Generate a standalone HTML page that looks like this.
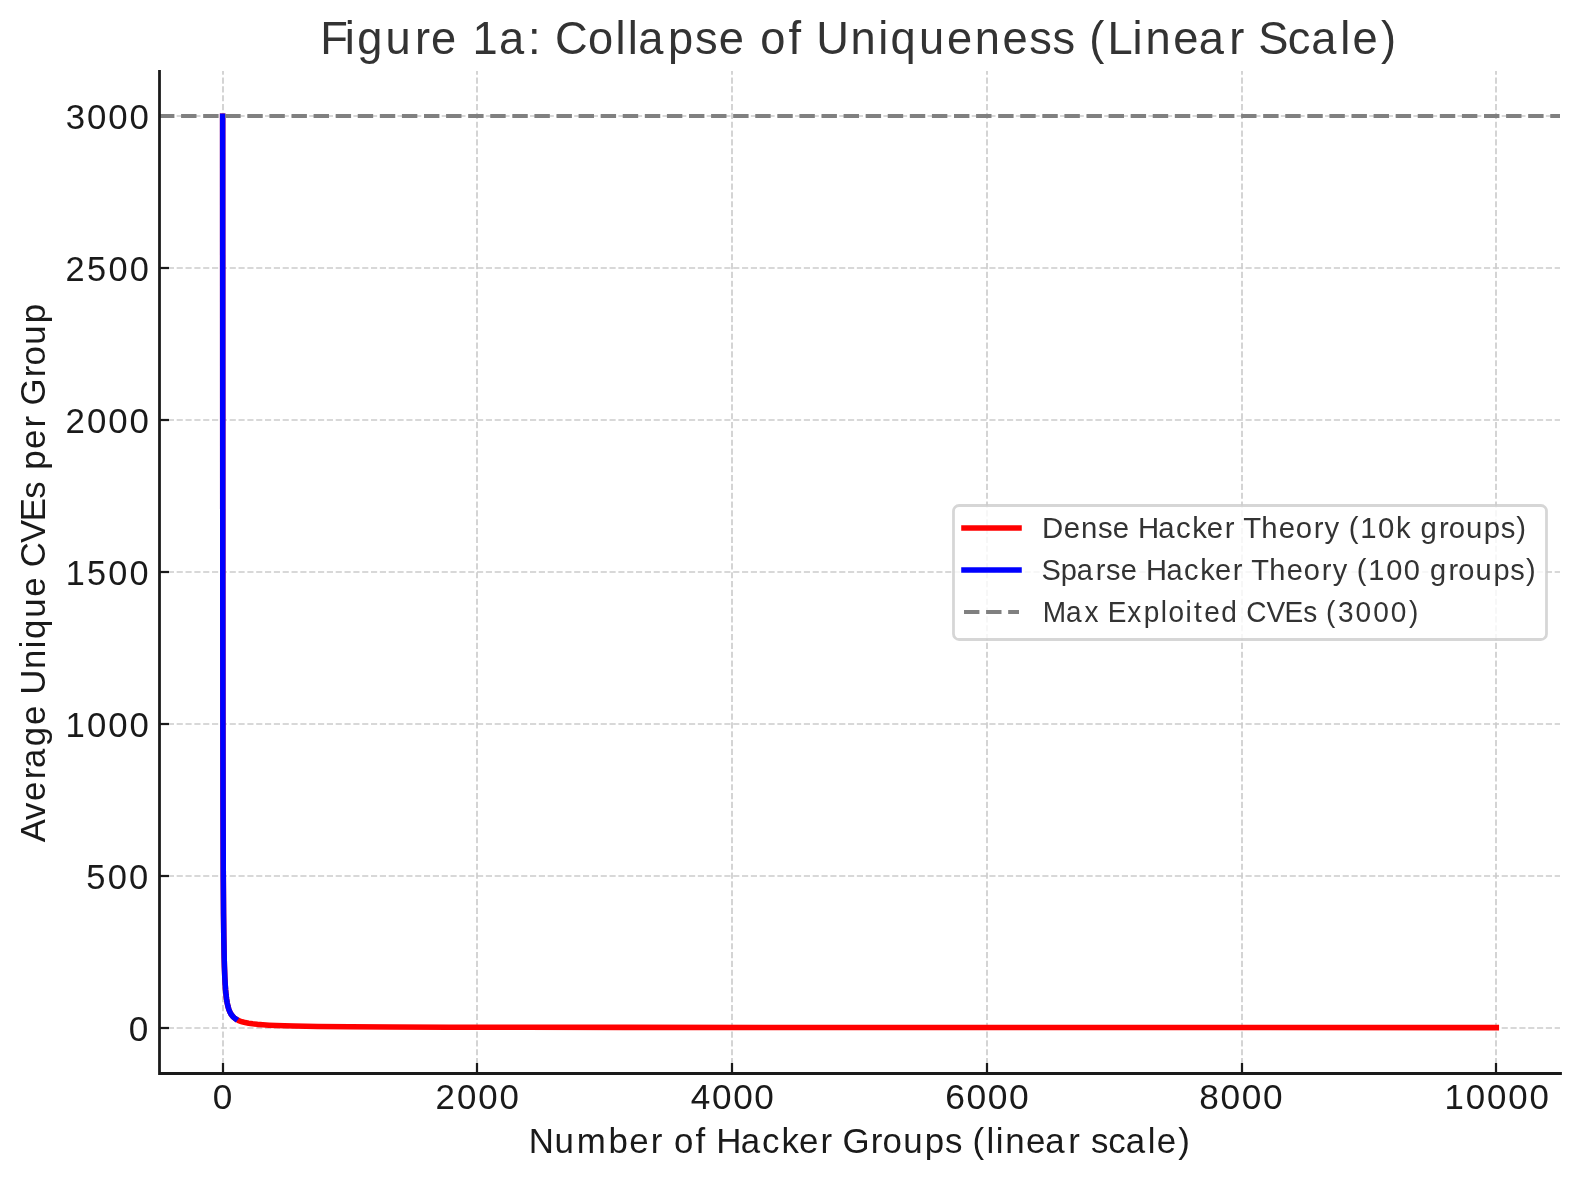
<!DOCTYPE html>
<html><head><meta charset="utf-8"><title>Figure 1a: Collapse of Uniqueness (Linear Scale)</title>
<style>html,body{margin:0;padding:0;background:#fff;}svg{display:block;will-change:transform;}text{font-family:"Liberation Sans",sans-serif;}</style></head><body>
<svg width="1580" height="1180" viewBox="0 0 1580 1180">
<rect x="0" y="0" width="1580" height="1180" fill="#ffffff"/>
<defs><clipPath id="ax"><rect x="158.96" y="70.67" width="1401.04" height="1002.5000000000001"/></clipPath></defs>
<g fill="none" stroke="#cccccc" stroke-width="1.6667" stroke-dasharray="6.1667 2.6667"><path d="M223 1073 L223 71"/><path d="M477 1073 L477 71"/><path d="M732 1073 L732 71"/><path d="M987 1073 L987 71"/><path d="M1242 1073 L1242 71"/><path d="M1496 1073 L1496 71"/><path d="M159 116 L1560 116"/><path d="M159 268 L1560 268"/><path d="M159 420 L1560 420"/><path d="M159 572 L1560 572"/><path d="M159 724 L1560 724"/><path d="M159 876 L1560 876"/><path d="M159 1028 L1560 1028"/></g>
<g fill="none" stroke="#1a1a1a" stroke-width="2.2222"><path d="M159.5 116 L169 116"/><path d="M159.5 268 L169 268"/><path d="M159.5 420 L169 420"/><path d="M159.5 572 L169 572"/><path d="M159.5 724 L169 724"/><path d="M159.5 876 L169 876"/><path d="M159.5 1028 L169 1028"/><path d="M223 1073.5 L223 1063"/><path d="M477 1073.5 L477 1063"/><path d="M732 1073.5 L732 1063"/><path d="M987 1073.5 L987 1063"/><path d="M1242 1073.5 L1242 1063"/><path d="M1496 1073.5 L1496 1063"/></g>
<g clip-path="url(#ax)" fill="none" stroke-width="5.5556" stroke-linejoin="round" stroke-linecap="square">
<path stroke="#ff0000" d="M222.642 116.235 L222.769 571.962 L222.897 723.871 L223.024 799.826 L223.279 875.781 L223.534 913.758 L223.788 936.544 L224.171 957.578 L224.425 966.926 L224.808 977.053 L225.190 984.287 L225.572 989.712 L226.081 995.138 L226.591 999.207 L227.228 1003.056 L227.992 1006.493 L228.374 1007.875 L228.884 1009.461 L229.775 1011.699 L230.794 1013.667 L231.431 1014.669 L232.068 1015.537 L232.832 1016.437 L233.597 1017.213 L234.361 1017.889 L235.253 1018.575 L236.144 1019.171 L237.163 1019.764 L238.310 1020.339 L239.456 1020.837 L240.730 1021.316 L242.131 1021.771 L245.188 1022.569 L248.628 1023.244 L252.704 1023.844 L257.417 1024.363 L262.767 1024.805 L269.008 1025.192 L276.142 1025.525 L284.421 1025.814 L294.102 1026.068 L318.050 1026.474 L349.895 1026.778 L392.312 1027.006 L448.997 1027.177 L524.533 1027.305 L625.291 1027.401 L938.773 1027.528 L1496.316 1027.598"/>
<path stroke="#0000ff" d="M222.642 116.235 L222.769 571.962 L222.897 723.871 L223.024 799.826 L223.279 875.781 L223.534 913.758 L223.788 936.544 L224.171 957.578 L224.425 966.926 L224.808 977.053 L225.190 984.287 L225.572 989.712 L226.081 995.138 L226.591 999.207 L227.228 1003.056 L227.992 1006.493 L228.374 1007.875 L228.884 1009.461 L229.775 1011.699 L230.794 1013.667 L231.431 1014.669 L232.068 1015.537 L232.832 1016.437 L233.597 1017.213 L234.361 1017.889 L235.253 1018.575"/>
<path stroke="#808080" stroke-linecap="butt" stroke-width="4.1667" stroke-dasharray="15.4167 6.6667" d="M159 116 L1560 116"/>
</g>
<path d="M159.5 71.5 L159.5 1073.5 L1560.5 1073.5" fill="none" stroke="#1a1a1a" stroke-width="2.7778" stroke-linecap="square" stroke-linejoin="miter"/>
<rect x="953.5" y="505.5" width="593" height="134" rx="5.56" ry="5.56" fill="#ffffff" fill-opacity="0.8" stroke="#cccccc" stroke-opacity="0.8" stroke-width="2.7778"/>
<g fill="none" stroke-width="5.5556" stroke-linecap="square">
<path stroke="#ff0000" d="M964 528 L1019 528"/>
<path stroke="#0000ff" d="M964 570 L1019 570"/>
<path stroke="#808080" stroke-linecap="butt" stroke-width="4.1667" stroke-dasharray="15.4167 6.6667" d="M964 612 L1019 612"/>
</g>
<text transform="translate(321.27 54.00) scale(0.9693 1)" x="-1.14 24.26 37.08 66.39 96.61 113.10 140.93 156.09 183.30 213.31 228.33 241.02 275.23 303.45 316.20 327.14 357.78 385.64 410.18 438.01 452.86 482.07 496.85 510.57 545.89 574.55 587.36 616.68 645.55 674.23 702.89 730.51 754.43 778.56 792.34 811.03 837.04 850.24 878.90 905.30 936.63 953.74 966.76 997.07 1021.28 1051.23 1064.01 1093.39" y="0" font-size="46.70" fill="#333333">Figure 1a: Collapse of Uniqueness (Linear Scale)</text>
<text transform="translate(528.84 1153.00) scale(0.9964 1)" x="-0.13 25.85 48.09 80.01 100.80 122.48 135.01 145.72 167.16 177.95 188.07 212.59 233.90 253.47 271.04 292.72 305.25 314.79 343.09 354.93 375.71 397.24 417.60 435.31 445.31 459.33 468.65 478.12 499.04 518.28 541.24 553.77 564.17 581.47 599.09 621.12 630.29 651.86" y="0" font-size="35.00" fill="#1a1a1a">Number of Hacker Groups (linear scale)</text>
<text transform="translate(45.00 842.11) rotate(-90) scale(0.9932 1)" x="-0.20 22.15 41.52 63.26 74.64 96.65 117.93 138.42 148.27 174.20 195.31 204.56 226.01 247.14 267.63 276.72 301.10 323.10 345.74 363.50 374.84 395.69 417.43 430.00 439.59 467.97 479.85 500.69 522.29" y="0" font-size="35.00" fill="#1a1a1a">Average Unique CVEs per Group</text>
<text transform="translate(1041.82 538.00) scale(1.0041 1)" x="0.15 21.73 38.99 55.90 70.64 87.54 95.84 116.08 133.68 149.82 164.35 182.26 192.61 200.60 218.60 235.90 252.81 270.72 281.61 297.43 305.67 317.18 334.91 352.74 368.16 377.10 395.51 405.24 422.39 440.15 456.96 472.53" y="0" font-size="29.20" fill="#333333">Dense Hacker Theory (10k groups)</text>
<text transform="translate(1042.17 580.00) scale(0.9934 1)" x="-0.71 18.67 34.86 54.01 64.25 79.16 96.20 104.65 125.10 142.87 159.20 173.88 191.96 202.41 210.53 228.72 246.21 263.30 281.38 292.40 308.35 316.70 328.37 346.29 364.06 381.45 390.53 409.11 418.97 436.31 454.26 471.24 486.95" y="0" font-size="29.20" fill="#333333">Sparse Hacker Theory (100 groups)</text>
<text transform="translate(1042.33 622.00) scale(0.9601 1)" x="0.33 24.62 43.84 60.29 68.26 88.40 105.56 123.43 131.42 149.15 157.94 168.56 186.38 204.39 212.44 233.37 252.32 271.69 286.85 295.54 307.89 326.24 344.63 363.01 381.84" y="0" font-size="29.20" fill="#333333">Max Exploited CVEs (3000)</text>
<text transform="translate(211.90 1109.00) scale(0.9898 1)" x="0.83" y="0" font-size="35.50" fill="#1a1a1a">0</text>
<text transform="translate(434.93 1109.00) scale(0.9812 1)" x="0.48 22.57 44.21 65.85" y="0" font-size="35.50" fill="#1a1a1a">2000</text>
<text transform="translate(689.84 1109.00) scale(0.9898 1)" x="0.83 22.29 43.74 65.19" y="0" font-size="35.50" fill="#1a1a1a">4000</text>
<text transform="translate(944.49 1109.00) scale(0.9982 1)" x="0.74 22.01 43.29 64.56" y="0" font-size="35.50" fill="#1a1a1a">6000</text>
<text transform="translate(1198.52 1109.00) scale(0.9924 1)" x="0.80 22.20 43.60 64.99" y="0" font-size="35.50" fill="#1a1a1a">8000</text>
<text transform="translate(1443.70 1109.00) scale(0.9816 1)" x="0.74 22.55 44.19 65.82 87.45" y="0" font-size="35.50" fill="#1a1a1a">10000</text>
<text transform="translate(127.90 1041.00) scale(0.9898 1)" x="0.83" y="0" font-size="35.50" fill="#1a1a1a">0</text>
<text transform="translate(85.48 889.00) scale(0.9713 1)" x="0.90 22.90 44.76" y="0" font-size="35.50" fill="#1a1a1a">500</text>
<text transform="translate(64.82 737.00) scale(0.9795 1)" x="0.77 22.62 44.30 65.98" y="0" font-size="35.50" fill="#1a1a1a">1000</text>
<text transform="translate(64.82 585.00) scale(0.9653 1)" x="0.93 22.97 45.10 67.10" y="0" font-size="35.50" fill="#1a1a1a">1500</text>
<text transform="translate(64.93 433.00) scale(0.9812 1)" x="0.48 22.57 44.21 65.85" y="0" font-size="35.50" fill="#1a1a1a">2000</text>
<text transform="translate(64.93 281.00) scale(0.9672 1)" x="0.63 22.91 44.99 66.95" y="0" font-size="35.50" fill="#1a1a1a">2500</text>
<text transform="translate(64.88 129.00) scale(0.9801 1)" x="0.99 22.61 44.27 65.94" y="0" font-size="35.50" fill="#1a1a1a">3000</text>
</svg>
</body></html>
